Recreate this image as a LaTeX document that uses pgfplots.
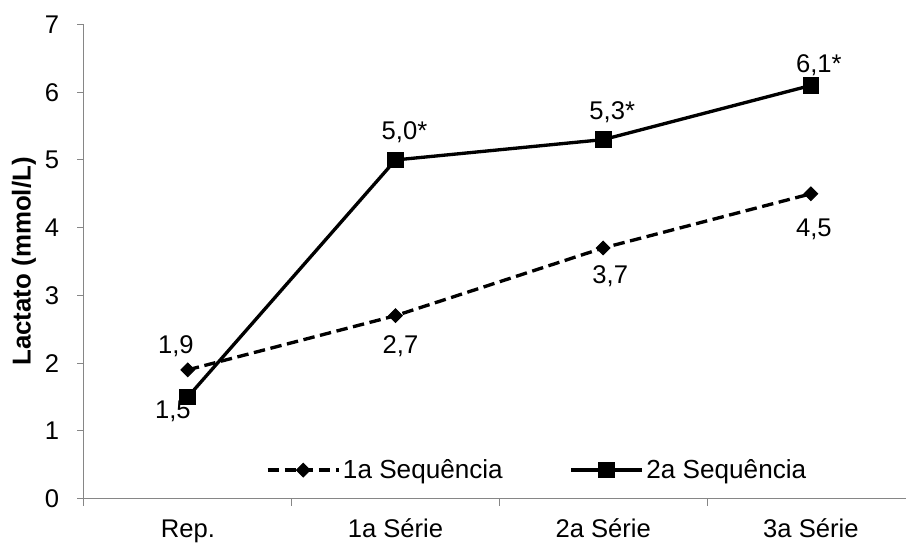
\documentclass[border=0pt]{standalone}
\usepackage{fontspec}
\setmainfont{Liberation Sans}
\usepackage{pgfplots}
\usepackage{pgfplotstable}
\pgfplotsset{compat=1.18}
\definecolor{axgray}{RGB}{134,134,134}
\pgfplotstableread{
x y lab dx dy
0 1.9 {1,9} -12 16
1 2.7 {2,7} 5 -38
2 3.7 {3,7} 7 -36
3 4.5 {4,5} 3 -43
}\seqA
\pgfplotstableread{
x y lab dx dy
0 1.5 {1,5} -15 -22
1 5.0 {5,0*} 9 20
2 5.3 {5,3*} 9 20
3 6.1 {6,1*} 8 13
}\seqB
\begin{document}
\begin{tikzpicture}[font=\fontsize{19.2}{23}\selectfont]
\path[use as bounding box] (-63pt,-34.125pt) rectangle (616.5pt,373.875pt);
\begin{axis}[
  at={(0,0)}, anchor=south west,
  scale only axis, width=616.5pt, height=355.5pt,
  xmin=-0.5, xmax=3.458, ymin=0, ymax=7,
  axis lines*=left,
  axis line style={axgray, line width=0.75pt},
  xtick={0,1,2,3},
  xticklabels={Rep.,1a Série,2a Série,3a Série},
  minor xtick={-0.5,0.5,1.5,2.5},
  major x tick style={draw=none},
  tick style={axgray, line width=0.75pt},
  tick align=inside,
  major tick length=-5.6pt, minor tick length=-5.6pt,
  ytick={0,1,2,3,4,5,6,7},
  /pgf/number format/assume math mode=true,
  tick label style={font=\fontsize{19.2}{23}\selectfont, black},
  xticklabel style={anchor=base, inner sep=0pt, yshift=-29.6pt},
  yticklabel style={anchor=east, inner sep=0pt, xshift=-18.4pt},
  ylabel={\bfseries Lactato (mmol/L)},
  every axis y label/.style={at={(axis description cs:-0.073,0.5)}, rotate=90, anchor=center, font=\fontsize{19.4}{23}\selectfont},
  clip=false,
  legend style={draw=none, fill=none, at={(axis description cs:0.5517,0.060)}, anchor=center,
    font=\fontsize{19.6}{23}\selectfont, inner sep=0pt, nodes={inner sep=2pt},
    /tikz/every even column/.append style={column sep=48pt}},
  legend columns=2,
  legend image code/.code={\draw[mark repeat=2, mark phase=2, #1] plot coordinates {(0pt,0pt) (26.6pt,0pt) (53.2pt,0pt)};},
]
\addplot[black, line width=2.5pt, dash pattern=on 8.6pt off 4.2pt,
  mark=square*, mark size=3.6pt, mark options={solid, rotate=45, line width=0.75pt},
  nodes near coords, point meta=explicit symbolic,
  visualization depends on={\thisrow{dx}\as\dx},
  visualization depends on={\thisrow{dy}\as\dy},
  every node near coord/.append style={anchor=base, inner sep=0pt, xshift={\dx*0.75pt}, yshift={\dy*0.75pt}, solid}]
  table[x=x, y=y, meta=lab] {\seqA};
\addlegendentry{1a Sequência}
\addplot[black, line width=2.5pt, solid,
  mark=square*, mark size=5.9pt, mark options={solid, line width=0.75pt},
  nodes near coords, point meta=explicit symbolic,
  visualization depends on={\thisrow{dx}\as\dx},
  visualization depends on={\thisrow{dy}\as\dy},
  every node near coord/.append style={anchor=base, inner sep=0pt, xshift={\dx*0.75pt}, yshift={\dy*0.75pt}}]
  table[x=x, y=y, meta=lab] {\seqB};
\addlegendentry{2a Sequência}
\end{axis}
\end{tikzpicture}
\end{document}
